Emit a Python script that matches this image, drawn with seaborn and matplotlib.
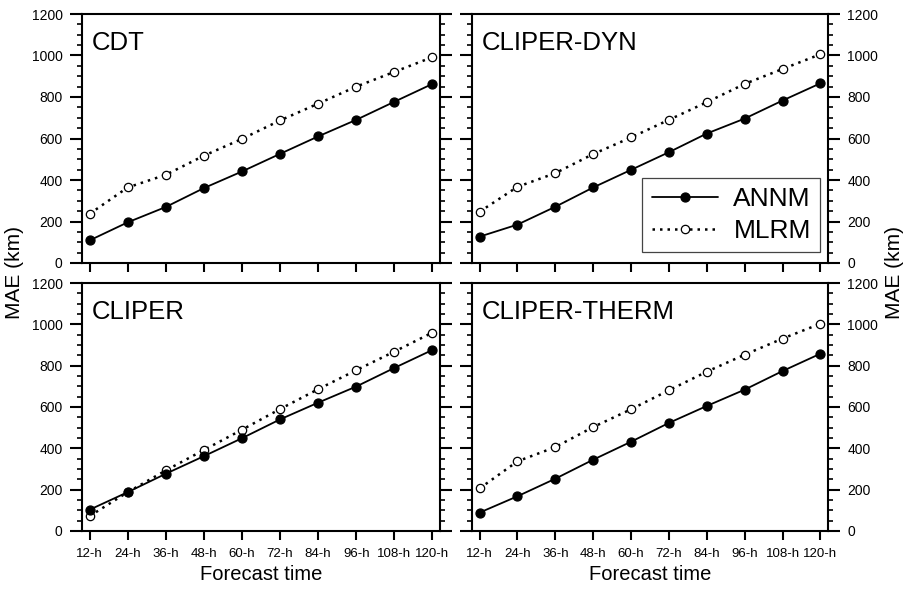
import matplotlib
matplotlib.use("Agg")
import matplotlib.pyplot as plt
import seaborn as sns
from matplotlib.ticker import MultipleLocator

# Forecast lead times (x categories)
lead_times = ["12-h", "24-h", "36-h", "48-h", "60-h", "72-h", "84-h", "96-h", "108-h", "120-h"]
positions = list(range(len(lead_times)))

# MAE (km), one pair of series per predictor set
annm_cdt = [109, 196, 270, 361, 441, 526, 610, 690, 777, 863]
mlrm_cdt = [237, 364, 425, 517, 598, 687, 768, 850, 921, 992]

annm_dyn = [127, 185, 271, 364, 449, 534, 624, 696, 783, 866]
mlrm_dyn = [247, 367, 433, 525, 605, 690, 775, 863, 935, 1006]

annm_cliper = [103, 188, 277, 362, 449, 540, 621, 699, 789, 876]
mlrm_cliper = [72, 188, 293, 392, 490, 590, 686, 778, 868, 960]

annm_therm = [89, 168, 253, 345, 432, 523, 605, 684, 774, 858]
mlrm_therm = [206, 337, 406, 503, 589, 681, 771, 853, 931, 1003]

sns.set_style("ticks")
plt.rcParams["font.family"] = ["Liberation Sans", "DejaVu Sans"]
for key in ["text.color", "axes.labelcolor", "xtick.color", "ytick.color", "axes.edgecolor"]:
    plt.rcParams[key] = "black"

W, H = 909, 591
fig = plt.figure(figsize=(W / 100, H / 100), dpi=100)


def add_panel(x0, x1, y0, y1):
    return fig.add_axes([x0 / W, 1 - y1 / H, (x1 - x0) / W, (y1 - y0) / H])


ax_tl = add_panel(82, 440, 14, 263)
ax_tr = add_panel(472, 828, 14, 263)
ax_bl = add_panel(82, 440, 283, 531)
ax_br = add_panel(472, 828, 283, 531)

panels = [
    (ax_tl, "CDT", annm_cdt, mlrm_cdt, "left", True),
    (ax_tr, "CLIPER-DYN", annm_dyn, mlrm_dyn, "right", True),
    (ax_bl, "CLIPER", annm_cliper, mlrm_cliper, "left", False),
    (ax_br, "CLIPER-THERM", annm_therm, mlrm_therm, "right", False),
]

for ax, name, annm, mlrm, side, top in panels:
    sns.lineplot(x=positions, y=mlrm, ax=ax, color="black", linestyle=(0, (1, 2)),
                 linewidth=1.8, marker="o", markersize=6, markerfacecolor="white",
                 markeredgecolor="black", markeredgewidth=0.9, label="MLRM")
    sns.lineplot(x=positions, y=annm, ax=ax, color="black", linewidth=1.3,
                 marker="o", markersize=6.5, markerfacecolor="black",
                 markeredgecolor="black", markeredgewidth=0.9, label="ANNM")
    if ax.get_legend() is not None:
        ax.get_legend().remove()

    ax.set_xlim(-0.2, 9.2)
    ax.set_ylim(0, 1200)
    ax.set_xticks(positions)
    ax.yaxis.set_major_locator(MultipleLocator(200))
    ax.yaxis.set_minor_locator(MultipleLocator(50))
    for sp in ax.spines.values():
        sp.set_visible(True)
        sp.set_linewidth(1.5)

    ax.tick_params(axis="y", which="major", direction="out", length=8.5, width=1.5,
                   left=True, right=True, labelsize=10, pad=5.5,
                   labelleft=(side == "left"), labelright=(side == "right"))
    ax.tick_params(axis="y", which="minor", direction="out", length=3.5, width=1.2,
                   left=True, right=True)
    ax.tick_params(axis="x", which="major", direction="out", length=6.5, width=1.5,
                   bottom=True, top=False, labelsize=9.5, pad=6)
    if top:
        ax.set_xticklabels([])
    else:
        ax.set_xticklabels(lead_times)
        ax.set_xlabel("Forecast time", fontsize=14.5, labelpad=3)
    ax.set_ylabel("")

    ax.text(0.028, 0.885, name, transform=ax.transAxes, fontsize=18.5,
            ha="left", va="center")

# Legend only in the CLIPER-DYN panel
handles, labels = ax_tr.get_legend_handles_labels()
order = [labels.index("ANNM"), labels.index("MLRM")]
leg = ax_tr.legend([handles[i] for i in order], [labels[i] for i in order],
                   loc="lower right", bbox_to_anchor=(0.978, 0.044), borderaxespad=0,
                   fontsize=19, handlelength=2.5, handletextpad=0.6, labelspacing=0.3,
                   borderpad=0.35, fancybox=False, framealpha=1)
leg.get_frame().set_edgecolor("#444444")
leg.get_frame().set_linewidth(0.9)

fig.text(15 / W, 1 - 273 / H, "MAE (km)", rotation=90, fontsize=15,
         ha="center", va="center")
fig.text(895 / W, 1 - 273 / H, "MAE (km)", rotation=90, fontsize=15,
         ha="center", va="center")

fig.savefig("out.png", dpi=100)
